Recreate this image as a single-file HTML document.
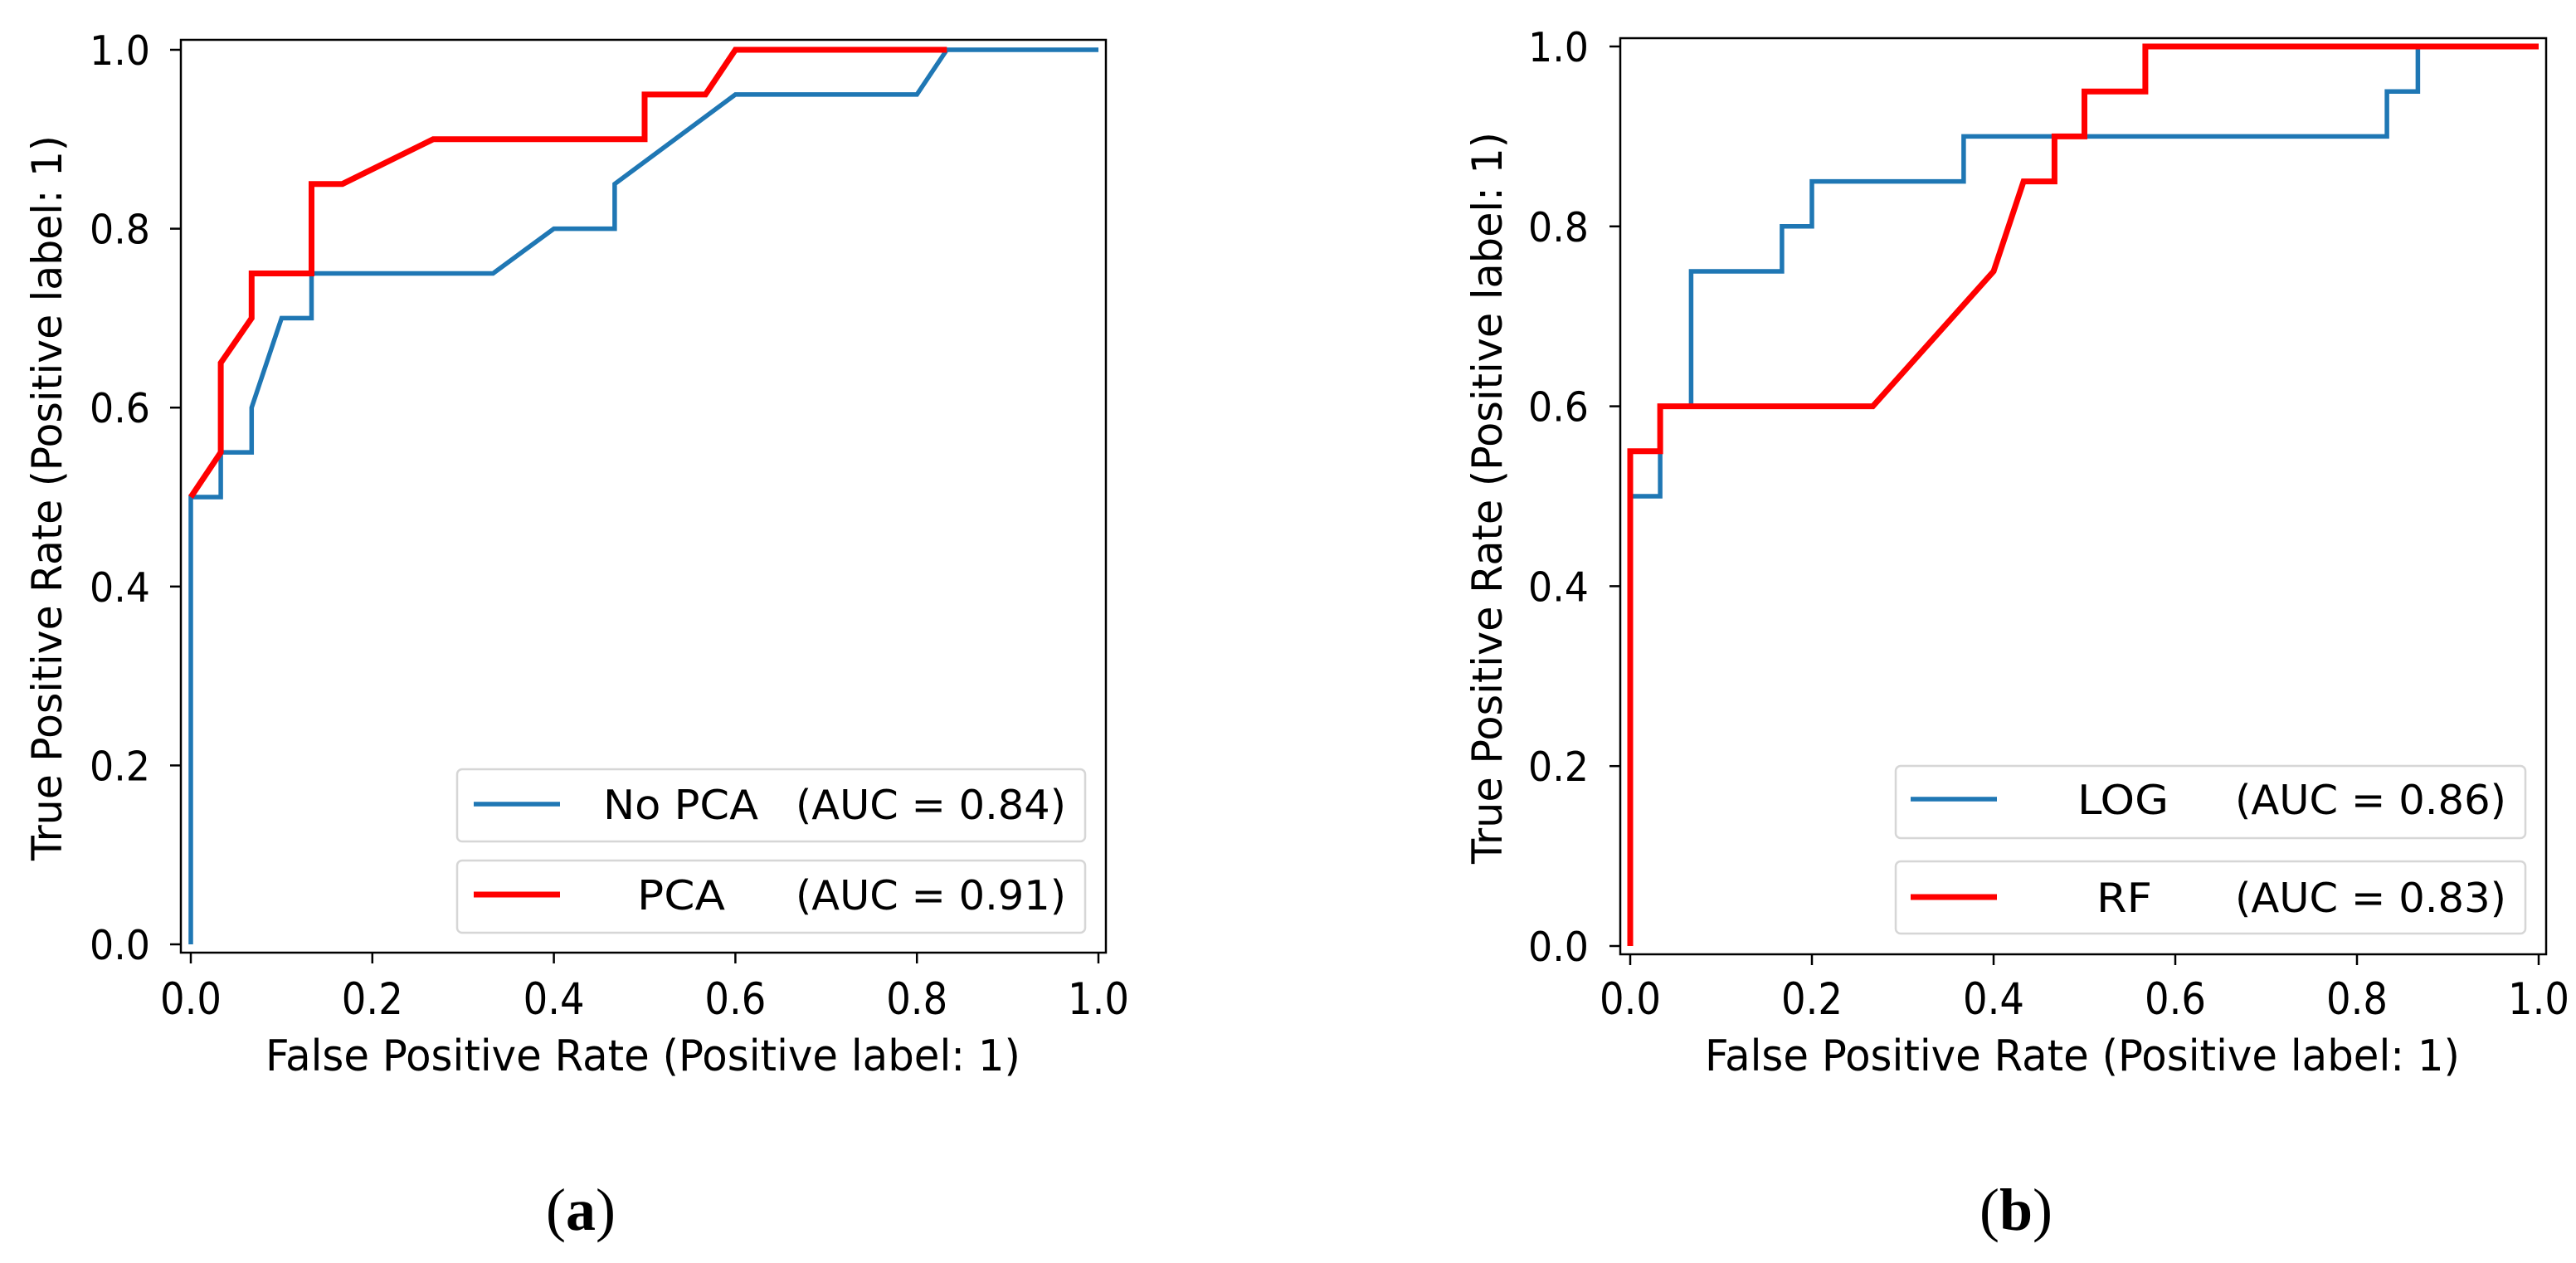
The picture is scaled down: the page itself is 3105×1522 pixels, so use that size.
<!DOCTYPE html>
<html><head><meta charset="utf-8"><style>
html,body{margin:0;padding:0;background:#fff;}
svg{display:block;}
text{font-family:"DejaVu Sans","Liberation Sans",sans-serif;fill:#000;}
</style></head><body>
<svg id="fig" width="3105" height="1522" viewBox="0 0 3105 1522" xmlns="http://www.w3.org/2000/svg"></svg>
<script>
// ---- data ----
const ticks = [0, 0.2, 0.4, 0.6, 0.8, 1.0];
const tickLabels = ["0.0", "0.2", "0.4", "0.6", "0.8", "1.0"];
const noPcaFpr = [0, 0, 0.033, 0.033, 0.067, 0.067, 0.1, 0.133, 0.133, 0.333, 0.4, 0.467, 0.467, 0.6, 0.8, 0.833, 1];
const noPcaTpr = [0, 0.5, 0.5, 0.55, 0.55, 0.6, 0.7, 0.7, 0.75, 0.75, 0.8, 0.8, 0.85, 0.95, 0.95, 1, 1];
const pcaFpr = [0, 0.033, 0.033, 0.067, 0.067, 0.133, 0.133, 0.167, 0.267, 0.5, 0.5, 0.567, 0.6, 0.833];
const pcaTpr = [0.5, 0.55, 0.65, 0.7, 0.75, 0.75, 0.85, 0.85, 0.9, 0.9, 0.95, 0.95, 1, 1];
const logFpr = [0, 0, 0.033, 0.033, 0.067, 0.067, 0.167, 0.167, 0.2, 0.2, 0.367, 0.367, 0.833, 0.833, 0.867, 0.867];
const logTpr = [0, 0.5, 0.5, 0.6, 0.6, 0.75, 0.75, 0.8, 0.8, 0.85, 0.85, 0.9, 0.9, 0.95, 0.95, 1];
const rfFpr = [0, 0, 0.033, 0.033, 0.267, 0.4, 0.433, 0.467, 0.467, 0.5, 0.5, 0.567, 0.567, 1];
const rfTpr = [0, 0.55, 0.55, 0.6, 0.6, 0.75, 0.85, 0.85, 0.9, 0.9, 0.95, 0.95, 1, 1];
const legendA = ["No PCA", "(AUC = 0.84)", "PCA", "(AUC = 0.91)"];
const legendB = ["LOG", "(AUC = 0.86)", "RF", "(AUC = 0.83)"];

const NS = "http://www.w3.org/2000/svg";
const svg = document.getElementById("fig");
function mk(tag, attrs, parent, txt) {
  const e = document.createElementNS(NS, tag);
  for (const k in attrs) e.setAttribute(k, attrs[k]);
  if (txt !== undefined) e.textContent = txt;
  (parent || svg).appendChild(e);
  return e;
}

function panel(cfg) {
  const g = mk("g", {});
  
  
  const sx = v => cfg.x0 + v * (cfg.x1 - cfg.x0);
  const sy = v => cfg.y0 + v * (cfg.y1 - cfg.y0);
  const fr = mk("rect", {x: cfg.sl, y: cfg.st, width: cfg.sr - cfg.sl, height: cfg.sb - cfg.st, fill: "none", stroke: "#000", "stroke-width": 2.5}, g);
  
  
  ticks.forEach((t, i) => {
    const xt = mk("line", {x1: sx(t), x2: sx(t), y1: cfg.sb, y2: cfg.sb + 13, stroke: "#000", "stroke-width": 2.5}, g);
    
    
    const xl = mk("text", {x: sx(t), y: 1222, "text-anchor": "middle", "font-size": 53, textLength: 74, lengthAdjust: "spacingAndGlyphs"}, g, tickLabels[i]);
    
    
    const yt = mk("line", {x1: cfg.sl - 13, x2: cfg.sl, y1: sy(t), y2: sy(t), stroke: "#000", "stroke-width": 2.5}, g);
    
    
    const yl = mk("text", {x: cfg.ytx, y: sy(t) + 18, "text-anchor": "end", "font-size": 49, textLength: 73, lengthAdjust: "spacingAndGlyphs"}, g, tickLabels[i]);
    
    
  });
  const xlab = mk("text", {x: cfg.xlx, y: 1290, "font-size": 52, textLength: 910, lengthAdjust: "spacingAndGlyphs"}, g, "False Positive Rate (Positive label: 1)");
  
  
  const ylab = mk("text", {x: 0, y: 0, "font-size": 50, "text-anchor": "middle", textLength: cfg.ylw, lengthAdjust: "spacingAndGlyphs", transform: `translate(${cfg.ylx},600) rotate(-90)`}, g, "True Positive Rate (Positive label: 1)");
  
  
  cfg.series.forEach(s => {
    const d = s.fx.map((v, i) => (i ? "L" : "M") + sx(v).toFixed(1) + "," + sy(s.ty[i]).toFixed(1)).join(" ");
    const p = mk("path", {d: d, fill: "none", stroke: s.color, "stroke-width": s.w, "stroke-linejoin": "miter"}, g);
    
    
  });
  cfg.legend.forEach((L, i) => {
    const lg = mk("g", {}, g);
    
    
    const r = mk("rect", {x: cfg.lbx, y: L.by, width: cfg.lbw, height: 87, rx: 6, fill: "#fff", stroke: "#d6d6d6", "stroke-width": 2.5}, lg);
    
    
    const ln = mk("line", {x1: cfg.llx, x2: cfg.llx + 104, y1: L.ly, y2: L.ly, stroke: L.color, "stroke-width": L.w}, lg);
    
    
    const t1 = mk("text", {x: L.nx, y: L.ly + 18, "font-size": 49, textLength: L.nw, lengthAdjust: "spacingAndGlyphs"}, lg, L.label);
    
    
    const t2 = mk("text", {x: cfg.aucx, y: L.ly + 18, "font-size": 49, textLength: cfg.aucw, lengthAdjust: "spacingAndGlyphs"}, lg, L.auc);
    
    
  });
  const cap = mk("text", {x: cfg.capx, y: 1482, "text-anchor": "middle", "font-size": 72, style: "font-family:'Liberation Serif',serif"}, g);
  
  
  mk("tspan", {}, cap, "(");
  mk("tspan", {"font-weight": "bold"}, cap, cfg.cap);
  mk("tspan", {}, cap, ")");
}

panel({name: "panel-a", x0: 230, x1: 1324, y0: 1138, y1: 60, sl: 218, sr: 1333, st: 48, sb: 1148,
  ytx: 181, xlx: 320, ylx: 74, ylw: 874, capx: 700, cap: "a",
  series: [
    {name: "no-pca-curve", fx: noPcaFpr, ty: noPcaTpr, color: "#1f77b4", w: 5.5},
    {name: "pca-curve", fx: pcaFpr, ty: pcaTpr, color: "#ff0000", w: 7}
  ],
  lbx: 551, lbw: 757, llx: 571, aucx: 959, aucw: 326,
  legend: [
    {by: 927, ly: 969, color: "#1f77b4", w: 5.5, label: legendA[0], nx: 727, nw: 187, auc: legendA[1]},
    {by: 1037, ly: 1078, color: "#ff0000", w: 7, label: legendA[2], nx: 768, nw: 106, auc: legendA[3]}
  ]});

panel({name: "panel-b", x0: 1965, x1: 3060, y0: 1140, y1: 56, sl: 1953, sr: 3069, st: 46, sb: 1150,
  ytx: 1915, xlx: 2055, ylx: 1810, ylw: 882, capx: 2430, cap: "b",
  series: [
    {name: "log-curve", fx: logFpr, ty: logTpr, color: "#1f77b4", w: 5.5},
    {name: "rf-curve", fx: rfFpr, ty: rfTpr, color: "#ff0000", w: 7}
  ],
  lbx: 2285, lbw: 759, llx: 2303, aucx: 2694, aucw: 327,
  legend: [
    {by: 923, ly: 963, color: "#1f77b4", w: 5.5, label: legendB[0], nx: 2504, nw: 110, auc: legendB[1]},
    {by: 1038, ly: 1081, color: "#ff0000", w: 7, label: legendB[2], nx: 2527, nw: 67, auc: legendB[3]}
  ]});
</script>
</body></html>
